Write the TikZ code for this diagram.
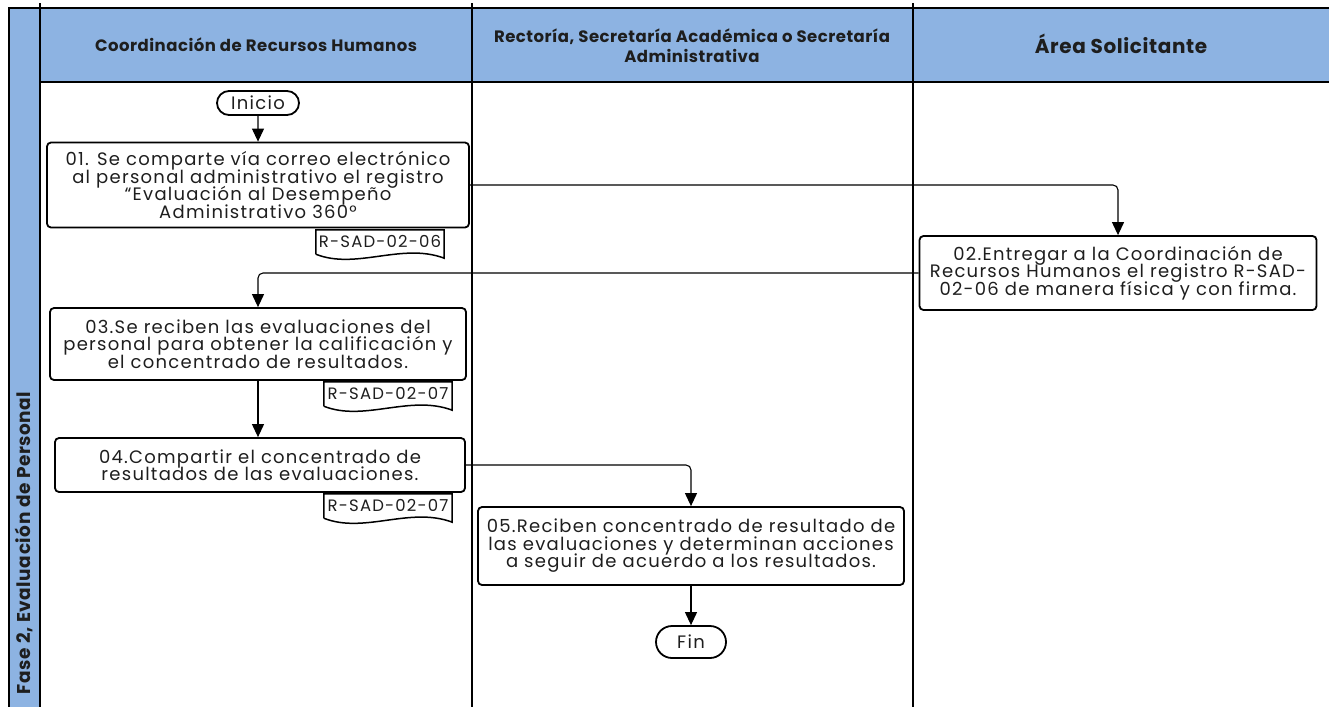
\documentclass[tikz,border=0pt]{standalone}
\usepackage{fontspec}
\setmainfont{Poppins}
\newfontfamily\wideface[LetterSpace=7]{Poppins}
\newfontfamily\headface[LetterSpace=3]{Poppins}
\usetikzlibrary{arrows.meta,calc,shapes.misc}

\definecolor{laneblue}{RGB}{141,179,226}
\definecolor{inkgray}{RGB}{30,30,30}
\newcommand\tightlines{\lineskiplimit=-20pt\relax}

\begin{document}
\begin{tikzpicture}[x=1pt,y=-1pt,
    lane/.style={line width=2.4pt},
    hdr/.style={font=\headface\bfseries\fontsize{16.5}{20}\selectfont,align=center,text=inkgray},
    actbox/.style={draw,line width=1.8pt,rounded corners=4pt,align=center,inner sep=1pt,
        font=\wideface\fontsize{18}{17.5}\selectfont\tightlines,text=inkgray,fill=white},
    term/.style={draw,line width=1.8pt,rounded rectangle,inner sep=1pt,
        font=\wideface\fontsize{18}{18}\selectfont,text=inkgray},
    docbox/.style={inner sep=1pt,minimum width=128pt,minimum height=22pt,
        font=\wideface\fontsize{16.5}{16}\selectfont,text=inkgray},
    flow/.style={line width=1.1pt,-{Triangle[width=12pt,length=13pt]},rounded corners=5pt}
]
\useasboundingbox (0,0) rectangle (1329,707);

% Swimlane frame
\fill[laneblue] (8,8) rectangle (1329,82);
\fill[laneblue] (8,82) rectangle (40,707);
\draw[lane] (8,8) -- (1329,8);
\draw[lane] (40,82) -- (1329,82);
\draw[lane] (9,8) -- (9,707);
\foreach \xx in {40,472,913}
    \draw[lane] (\xx,3) -- (\xx,707);

% Lane titles
\node[hdr] (h1) at (256,45) {Coordinación de Recursos Humanos};
\node[hdr] (h2) at (692,46) {Rectoría, Secretaría Académica o Secretaría\\ Administrativa};
\node[hdr,font=\headface\bfseries\fontsize{20}{22}\selectfont] (h3) at (1121,44) {Área Solicitante};
\node[hdr,rotate=90,font=\headface\bfseries\fontsize{18.5}{18}\selectfont] (fase) at (24,543) {Fase 2, Evaluación de Personal};

% Activities
\node[term,minimum width=84pt,minimum height=24pt] (inicio) at (258,103) {Inicio};
\node[actbox,minimum width=422pt,minimum height=85pt] (b01) at (258,185)
    {01. Se comparte vía correo electrónico\\ al personal administrativo el registro\\ “Evaluación al Desempeño\\ Administrativo 360°};
\node[actbox,minimum width=397pt,minimum height=74pt] (b02) at (1118,273)
    {02.Entregar a la Coordinación de\\ Recursos Humanos el registro R-SAD-\\ 02-06 de manera física y con firma.};
\node[actbox,minimum width=416pt,minimum height=72pt] (b03) at (258,344)
    {03.Se reciben las evaluaciones del\\ personal para obtener la calificación y\\ el concentrado de resultados.};
\node[actbox,minimum width=410pt,minimum height=54pt] (b04) at (260,465)
    {04.Compartir el concentrado de\\ resultados de las evaluaciones.};
\node[actbox,minimum width=426pt,minimum height=78pt] (b05) at (691,546)
    {05.Reciben concentrado de resultado de\\ las evaluaciones y determinan acciones\\ a seguir de acuerdo a los resultados.};
\node[term,minimum width=72pt,minimum height=32pt] (fin) at (691,642) {Fin};

% Registers
\node[docbox] (d1) at (380,241) {R-SAD-02-06};
\node[docbox] (d2) at (388,393) {R-SAD-02-07};
\node[docbox] (d3) at (388,505) {R-SAD-02-07};
\foreach \d in {d1,d2,d3}
    \draw[line width=1.5pt] ($(\d.south west)+(0,2)$) -- (\d.north west) -- (\d.north east)
        -- ($(\d.south east)+(0,6)$) .. controls ($(\d.south)+(22,-10)$) and ($(\d.south)+(-24,18)$)
        .. ($(\d.south west)+(0,2)$);

% Flow
\draw[flow] (inicio) -- (b01);
\draw[flow] (b01.east) -| (b02.north);
\draw[flow] (b02.west) -| (b03.north);
\draw[flow] (b03.south) -- (b03.south |- b04.north);
\draw[flow] (b04.east) -| (b05.north);
\draw[flow] (b05) -- (fin);
\end{tikzpicture}
\end{document}
